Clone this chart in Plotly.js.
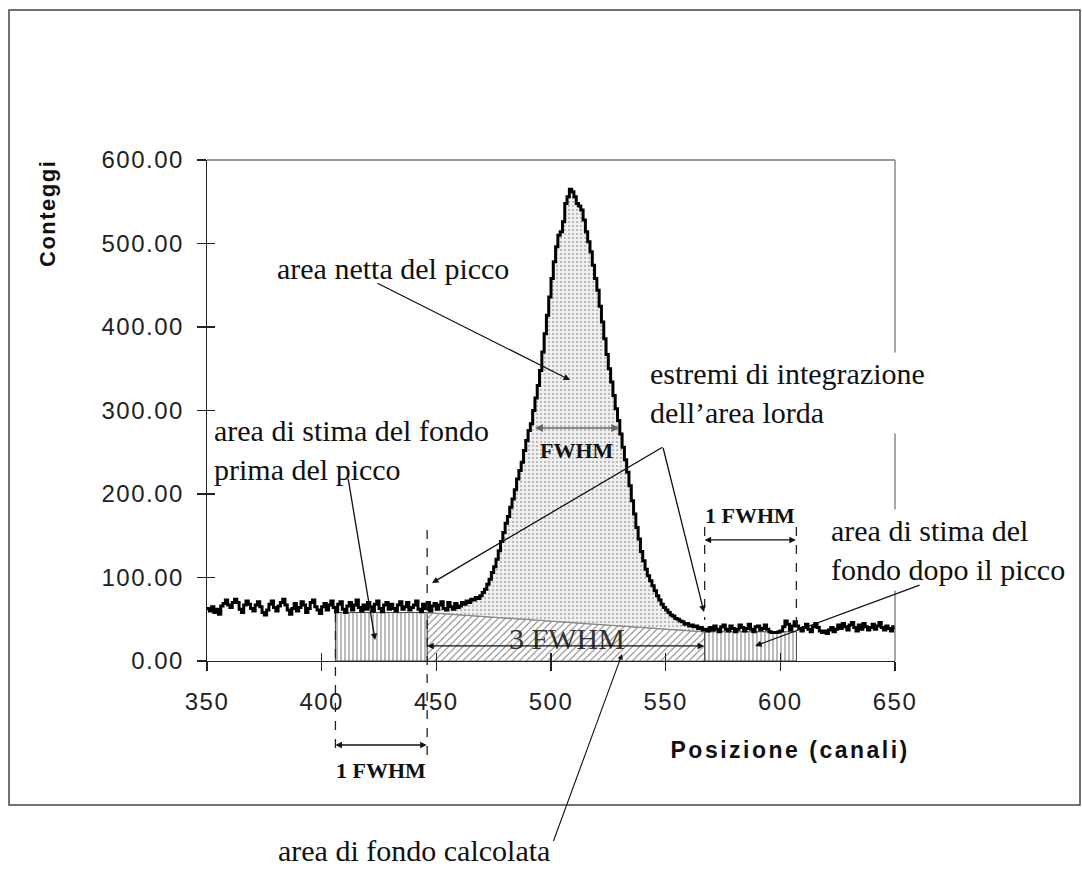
<!DOCTYPE html>
<html><head><meta charset="utf-8">
<script src="https://cdn.plot.ly/plotly-3.0.1.min.js"></script>
<style>
html,body{margin:0;padding:0;background:#fff;}
#chart{width:1082px;height:870px;}
.xtick text,.ytick text{letter-spacing:1.5px;}
</style></head><body><div id="chart"></div>
<script>
// ---------------- data ----------------
const channelStart = 350;
const counts = [
63,60,65,58,62,56,66,69,73,67,
64,70,74,70,62,58,67,72,68,63,
60,67,71,65,58,55,61,68,72,64,
60,66,70,74,67,61,56,63,69,60,
64,71,67,58,63,70,73,65,61,57,
65,69,61,67,72,64,59,68,71,62,
58,66,70,61,67,73,64,60,67,62,
70,65,60,68,72,63,59,67,70,62,
68,63,60,67,71,62,65,70,61,64,
67,72,62,59,68,63,70,60,66,69,
62,67,71,63,61,70,65,62,69,64,
66,70,68,72,70,74,73,76,75,78,
82,86,92,98,106,113,122,132,143,154,
165,173,184,194,205,218,228,238,252,264,
276,284,300,315,330,348,370,392,414,436,
458,478,496,510,514,526,548,556,565,562,
556,548,545,540,528,514,502,490,474,458,
444,425,406,386,367,350,334,318,302,288,
272,256,241,226,210,192,176,160,146,131,
120,110,102,96,90,84,78,73,68,64,
61,58,55,54,51,50,48,47,44,45,
42,43,41,42,39,40,37,38,
36,40,37,42,38,35,41,43,38,36,
42,39,35,38,43,40,36,39,44,38,
35,41,42,37,39,43,38,35,34,34,
34,35,36,41,48,44,37,42,47,42,
39,36,40,44,38,35,41,45,40,36,
34,36,33,37,40,35,38,43,39,45,
41,37,43,46,40,36,43,38,45,41,
37,40,44,38,42,46,40,37,42,39,
36,41,38
];
const xTickVals = [350,400,450,500,550,600,650];
const yTickVals = [0,100,200,300,400,500,600];
const leftBgChannels = [406, 446];
const rightBgChannels = [567, 607];
const leftBgLevel = 58;
const rightBgLevel = 35;
const fwhmChannels = [493, 530];
const fwhmLevel = 279;
const labelTexts = {
  net: 'area netta del picco',
  limits: 'estremi di integrazione<br>dell\u2019area lorda',
  bgBefore: 'area di stima del fondo<br>prima del picco',
  bgAfter: 'area di stima del<br>fondo dopo il picco',
  fwhm: 'FWHM',
  oneFwhm: '1 FWHM',
  threeFwhm: '3 FWHM',
  bgCalc: 'area di fondo calcolata',
  yTitle: 'Conteggi',
  xTitle: 'Posizione (canali)'
};

// ---------------- derived ----------------
const channels = counts.map((_, i) => channelStart + i);
const peakX = [], peakY = [];
channels.forEach((c, i) => { if (c >= leftBgChannels[1] && c <= rightBgChannels[0]) { peakX.push(c); peakY.push(counts[i]); } });

const serif = 'Liberation Serif, Times New Roman, serif';
const sans = 'Liberation Sans, Arial, sans-serif';
const W = 1082, H = 870;
const M = {l:207, r:187, t:160, b:209};
const pw = W - M.l - M.r, ph = H - M.t - M.b;
const pX = px => (px - M.l) / pw;
const pY = py => (H - M.b - py) / ph;

const traces = [
  { // calculated background trapezoid
    x: [leftBgChannels[1], leftBgChannels[1], rightBgChannels[0], rightBgChannels[0], leftBgChannels[1]],
    y: [0, leftBgLevel, rightBgLevel, 0, 0],
    mode: 'lines', fill: 'toself', line: {color: '#777', width: 1},
    fillcolor: '#ffffff',
    fillpattern: {shape: '/', fgcolor: '#7a7a7a', bgcolor: '#ffffff', size: 5, solidity: 0.2},
    hoverinfo: 'skip', showlegend: false
  },
  { // left background estimate box
    x: [leftBgChannels[0], leftBgChannels[0], leftBgChannels[1], leftBgChannels[1], leftBgChannels[0]],
    y: [0, leftBgLevel, leftBgLevel, 0, 0],
    mode: 'lines', fill: 'toself', line: {color: '#444', width: 1},
    fillcolor: '#ffffff',
    fillpattern: {shape: '|', fgcolor: '#777', bgcolor: '#ffffff', size: 4, solidity: 0.25},
    hoverinfo: 'skip', showlegend: false
  },
  { // right background estimate box
    x: [rightBgChannels[0], rightBgChannels[0], rightBgChannels[1], rightBgChannels[1], rightBgChannels[0]],
    y: [0, rightBgLevel, rightBgLevel, 0, 0],
    mode: 'lines', fill: 'toself', line: {color: '#444', width: 1},
    fillcolor: '#ffffff',
    fillpattern: {shape: '|', fgcolor: '#777', bgcolor: '#ffffff', size: 4, solidity: 0.25},
    hoverinfo: 'skip', showlegend: false
  },
  { // background line under the peak
    x: [leftBgChannels[1], rightBgChannels[0]],
    y: [leftBgLevel, rightBgLevel],
    mode: 'lines', line: {color: '#888', width: 1.2},
    hoverinfo: 'skip', showlegend: false
  },
  { // net peak area
    x: peakX, y: peakY, mode: 'lines', line: {width: 0, shape: 'hv'},
    fill: 'tonexty', fillcolor: '#eeeeee',
    fillpattern: {shape: '.', fgcolor: '#a8a8a8', bgcolor: '#f0f0f0', size: 4, solidity: 0.2},
    hoverinfo: 'skip', showlegend: false
  },
  { // spectrum
    x: channels, y: counts, mode: 'lines',
    line: {color: '#000', width: 3, shape: 'hv'},
    hoverinfo: 'skip', showlegend: false
  },
  { x: [], y: [], xaxis: 'x2', yaxis: 'y2', showlegend: false, hoverinfo: 'skip' }
];

const axisCommon = {
  showline: true, linecolor: '#222', linewidth: 1.3, mirror: false,
  ticks: 'outside', ticklen: 9, tickwidth: 1.3, tickcolor: '#222',
  showgrid: false, zeroline: false,
  tickfont: {family: sans, size: 24, color: '#222'}
};

function txt(text, px, py, size, extra) {
  return Object.assign({
    text, xref: 'paper', yref: 'paper', x: pX(px), y: pY(py), showarrow: false,
    font: {family: serif, size, color: '#111'}, xanchor: 'center', yanchor: 'middle'
  }, extra || {});
}
function arrow(x, y, ax, ay, extra) {
  return Object.assign({
    text: ' ', xref: 'x', yref: 'y', x, y, ax, ay, axref: 'x', ayref: 'y',
    showarrow: true, arrowhead: 2, arrowsize: 1, arrowwidth: 1.3, arrowcolor: '#111',
    font: {size: 1}, borderpad: 0, standoff: 0, startstandoff: 0
  }, extra || {});
}
const dbl = {arrowside: 'end+start', startarrowhead: 2, startarrowsize: 1};
const smallFont = {family: serif, size: 22, color: '#111', weight: 'bold'};

const annotations = [
  txt(labelTexts.net, 393, 268, 30),
  txt(labelTexts.limits, 645, 393, 30, {xanchor: 'left', align: 'left', bgcolor: '#ffffff', borderpad: 4}),
  txt(labelTexts.bgBefore, 212, 450, 30, {xanchor: 'left', align: 'left'}),
  txt(labelTexts.bgAfter, 826, 550, 30, {xanchor: 'left', align: 'left', bgcolor: '#ffffff', borderpad: 4}),
  txt(labelTexts.fwhm, 577, 450, 22, {font: smallFont}),
  txt(labelTexts.oneFwhm, 750, 515, 22, {font: smallFont}),
  txt(labelTexts.threeFwhm, 567, 638, 30, {font: {family: serif, size: 30, color: '#333'}}),
  txt(labelTexts.oneFwhm, 381, 770, 22, {font: smallFont}),
  txt(labelTexts.bgCalc, 414, 850, 30),
  txt('<b>' + labelTexts.yTitle + '</b>', 48, 214, 22, {textangle: -90, font: {family: sans, size: 22, color: '#111'}}),
  txt('<b>' + labelTexts.xTitle + '</b>', 790, 750, 23, {font: {family: sans, size: 23, color: '#111'}}),
  // arrows
  arrow(508.3, 336.5, 424.1, 452.7),
  arrow(448.1, 93.4, 548.8, 256.3),
  arrow(566.7, 58.7, 548.8, 256.3),
  arrow(423.3, 25.1, 411.5, 219.2),
  arrow(589.0, 18.0, 165, -61, {axref: 'pixel', ayref: 'pixel'}),
  arrow(531.0, 8.4, -69, 188, {axref: 'pixel', ayref: 'pixel', arrowwidth: 1.1}),
  // double arrows
  arrow(fwhmChannels[0], fwhmLevel, fwhmChannels[1], fwhmLevel, Object.assign({arrowcolor: '#666', arrowwidth: 1.6}, dbl)),
  arrow(rightBgChannels[0], 145, rightBgChannels[1], 145, dbl),
  arrow(leftBgChannels[1], 18, rightBgChannels[0], 18, dbl),
  arrow(leftBgChannels[0], pY(745), leftBgChannels[1], 0, Object.assign({yref: 'paper', ayref: 'pixel'}, dbl))
];

const dashed = {type: 'line', xref: 'x', yref: 'paper', line: {color: '#222', width: 1.3, dash: 'dash'}};
const shapes = [
  Object.assign({x0: leftBgChannels[0], x1: leftBgChannels[0], y0: pY(613), y1: pY(755)}, dashed),
  Object.assign({x0: leftBgChannels[1], x1: leftBgChannels[1], y0: pY(530), y1: pY(755)}, dashed),
  Object.assign({x0: rightBgChannels[0], x1: rightBgChannels[0], y0: pY(527), y1: pY(620)}, dashed),
  Object.assign({x0: rightBgChannels[1], x1: rightBgChannels[1], y0: pY(527), y1: pY(625)}, dashed),
  {type: 'line', xref: 'paper', yref: 'paper', x0: 0, x1: 1, y0: 1, y1: 1, line: {color: '#777', width: 1.3}},
  {type: 'line', xref: 'paper', yref: 'paper', x0: 1, x1: 1, y0: 0, y1: 1, line: {color: '#777', width: 1.3}},
  {type: 'rect', xref: 'paper', yref: 'paper', x0: pX(9), x1: pX(1080), y0: pY(805), y1: pY(10), line: {color: '#444', width: 1.5}}
];

const layout = {
  width: W, height: H, autosize: false,
  margin: M, paper_bgcolor: '#fff', plot_bgcolor: 'rgba(0,0,0,0)',
  showlegend: false,
  xaxis: Object.assign({range: [350, 650], tickvals: xTickVals, ticktext: xTickVals.map(String), ticklabelstandoff: 10}, axisCommon),
  yaxis: Object.assign({range: [0, 600], tickvals: yTickVals, tickformat: '.2f', ticklabelstandoff: 8}, axisCommon),
  xaxis2: {overlaying: 'x', anchor: 'y2', side: 'bottom', range: [350, 650], tickvals: xTickVals, ticks: 'inside', ticklen: 8, tickwidth: 1.3, tickcolor: '#222', showticklabels: false, showline: false, showgrid: false, zeroline: false},
  yaxis2: {overlaying: 'y', anchor: 'x2', side: 'left', range: [0, 600], tickvals: yTickVals, ticks: 'inside', ticklen: 8, tickwidth: 1.3, tickcolor: '#222', showticklabels: false, showline: false, showgrid: false, zeroline: false},
  annotations, shapes
};

const css = document.createElement('style');
css.textContent = `.annotation[data-index="9"] text{letter-spacing:1.5px}.annotation[data-index="10"] text{letter-spacing:2.5px}`;
document.head.appendChild(css);

Plotly.newPlot('chart', traces, layout, {displayModeBar: false, staticPlot: true});
</script></body></html>
